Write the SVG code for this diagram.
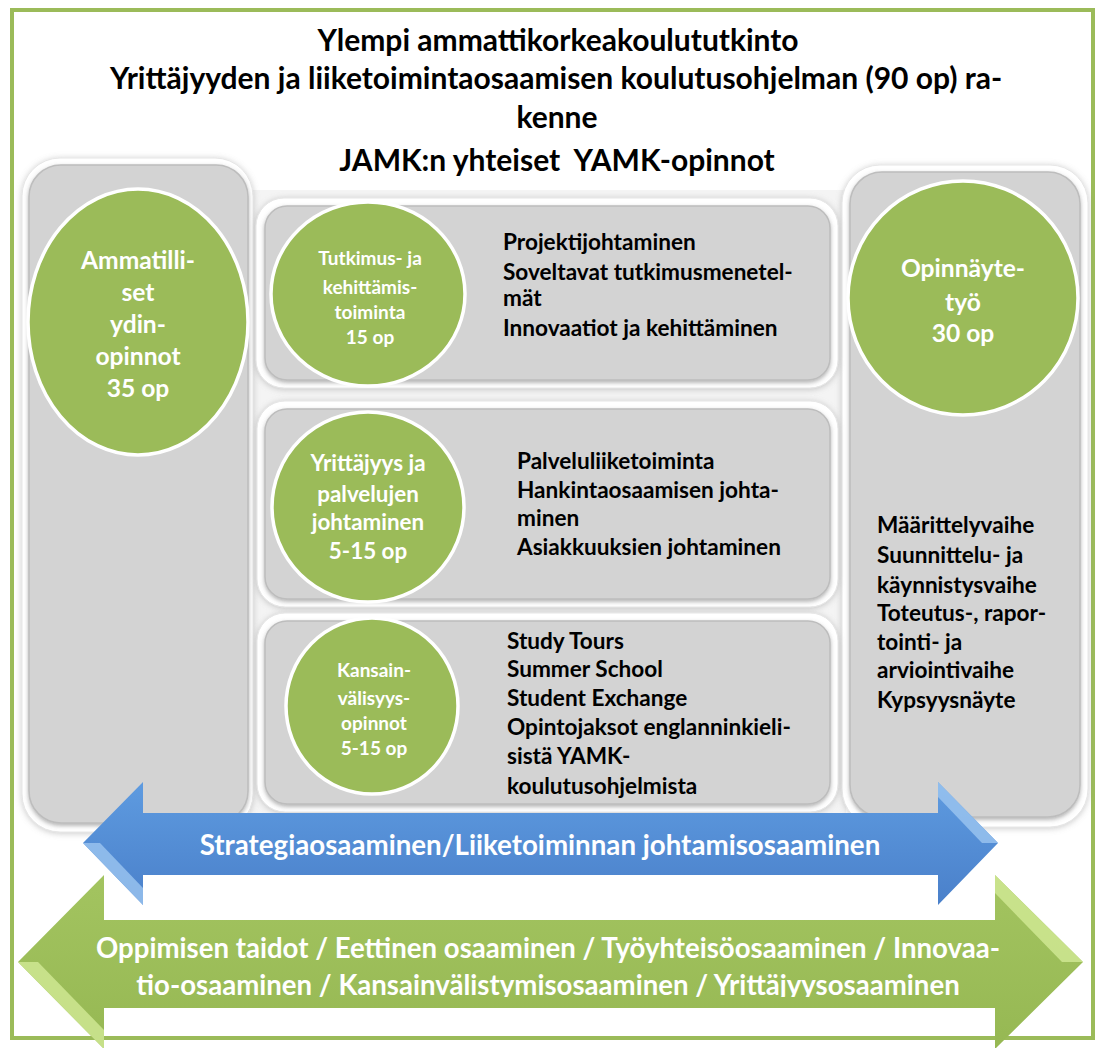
<svg xmlns="http://www.w3.org/2000/svg" width="1098" height="1048" viewBox="0 0 1098 1048">
<defs>
  <filter id="sh" x="-10%" y="-10%" width="120%" height="120%">
    <feDropShadow dx="0" dy="1" stdDeviation="3" flood-color="#888" flood-opacity="0.45"/>
  </filter>
  <filter id="ish" x="-10%" y="-10%" width="120%" height="120%">
    <feDropShadow dx="0" dy="2" stdDeviation="2" flood-color="#666" flood-opacity="0.5"/>
  </filter>
  <linearGradient id="blue" x1="0" y1="0" x2="0" y2="1">
    <stop offset="0" stop-color="#5E9BE0"/>
    <stop offset="1" stop-color="#4A80CA"/>
  </linearGradient>
  <linearGradient id="green" x1="0" y1="0" x2="0" y2="1">
    <stop offset="0" stop-color="#A3C460"/>
    <stop offset="1" stop-color="#96B853"/>
  </linearGradient>
  <clipPath id="gclip"><rect x="0" y="900" width="1098" height="97"/></clipPath>
  <style>
    .t{font-family:Lato,"Liberation Sans",sans-serif;font-weight:bold;}
    .title{font-size:30px;fill:#000;text-anchor:middle;}
    .list{font-size:22.6px;fill:#000;}
    .cw{fill:#fff;text-anchor:middle;}
    .outer{fill:#fff;stroke:#e6e6e6;stroke-width:1;filter:url(#sh);}
    .inner{fill:#d3d3d3;stroke:#bdbdbd;stroke-width:1.5;filter:url(#ish);}
    .circ{fill:#9BBB59;stroke:#fff;stroke-width:3.5;}
  </style>
</defs>

<rect x="0" y="0" width="1098" height="1048" fill="#fff"/>
<rect id="frame" x="12" y="10" width="1081" height="1028" fill="#fff" stroke="#9BBB59" stroke-width="4"/>

<g id="title" class="t title">
  <text x="558" y="51">Ylempi ammattikorkeakoulututkinto</text>
  <text x="556" y="89">Yrittäjyyden ja liiketoimintaosaamisen koulutusohjelman (90 op) ra-</text>
  <text x="557" y="128">kenne</text>
  <text x="557" y="171" xml:space="preserve">JAMK:n yhteiset  YAMK-opinnot</text>
</g>

<rect x="250" y="190" width="596" height="628" fill="#f4f4f4"/>

<g id="left-panel">
  <rect class="outer" x="22" y="158" width="231" height="674" rx="38"/>
  <rect class="inner" x="29" y="165" width="219" height="658" rx="32"/>
  <ellipse class="circ" cx="138" cy="322" rx="110" ry="133"/>
  <g class="t cw" font-size="24.6">
    <text x="138" y="269">Ammatilli-</text>
    <text x="138" y="301">set</text>
    <text x="138" y="333">ydin-</text>
    <text x="138" y="365">opinnot</text>
    <text x="138" y="397">35 op</text>
  </g>
</g>

<g id="right-panel">
  <rect class="outer" x="842" y="165" width="246" height="662" rx="38"/>
  <rect class="inner" x="850" y="172" width="230" height="645" rx="32"/>
  <ellipse class="circ" cx="963" cy="298" rx="115" ry="117"/>
  <g class="t cw" font-size="24.6">
    <text x="963" y="277">Opinnäyte-</text>
    <text x="963" y="311">työ</text>
    <text x="963" y="342">30 op</text>
  </g>
  <g class="t list">
    <text x="877" y="533">Määrittelyvaihe</text>
    <text x="877" y="563">Suunnittelu- ja</text>
    <text x="877" y="593">käynnistysvaihe</text>
    <text x="877" y="621">Toteutus-, rapor-</text>
    <text x="877" y="650">tointi- ja</text>
    <text x="877" y="678">arviointivaihe</text>
    <text x="877" y="708">Kypsyysnäyte</text>
  </g>
</g>

<g id="box-tutkimus">
  <rect class="outer" x="256" y="198" width="582" height="190" rx="28"/>
  <rect class="inner" x="265" y="206" width="565" height="174" rx="22"/>
  <ellipse class="circ" cx="368" cy="294" rx="97" ry="92"/>
  <g class="t cw" font-size="19">
    <text x="370" y="265">Tutkimus- ja</text>
    <text x="370" y="294">kehittämis-</text>
    <text x="370" y="319">toiminta</text>
    <text x="370" y="344">15 op</text>
  </g>
  <g class="t list">
    <text x="503" y="250">Projektijohtaminen</text>
    <text x="503" y="280">Soveltavat tutkimusmenetel-</text>
    <text x="503" y="306">mät</text>
    <text x="503" y="336">Innovaatiot ja kehittäminen</text>
  </g>
</g>

<g id="box-yrittajyys">
  <rect class="outer" x="257" y="401" width="581" height="206" rx="28"/>
  <rect class="inner" x="265" y="409" width="565" height="190" rx="22"/>
  <ellipse class="circ" cx="368" cy="507" rx="96" ry="95"/>
  <g class="t cw" font-size="22.4">
    <text x="368" y="471">Yrittäjyys ja</text>
    <text x="368" y="502">palvelujen</text>
    <text x="368" y="530">johtaminen</text>
    <text x="368" y="559">5-15 op</text>
  </g>
  <g class="t list">
    <text x="517" y="469">Palveluliiketoiminta</text>
    <text x="517" y="498">Hankintaosaamisen johta-</text>
    <text x="517" y="526">minen</text>
    <text x="517" y="555">Asiakkuuksien johtaminen</text>
  </g>
</g>

<g id="box-kansainvalisyys">
  <rect class="outer" x="257" y="613" width="581" height="199" rx="28"/>
  <rect class="inner" x="265" y="621" width="565" height="183" rx="22"/>
  <ellipse class="circ" cx="372" cy="706" rx="86" ry="88"/>
  <g class="t cw" font-size="19">
    <text x="374" y="677">Kansain-</text>
    <text x="374" y="705">välisyys-</text>
    <text x="374" y="730">opinnot</text>
    <text x="374" y="755">5-15 op</text>
  </g>
  <g class="t list">
    <text x="507" y="649">Study Tours</text>
    <text x="507" y="677">Summer School</text>
    <text x="507" y="706">Student Exchange</text>
    <text x="507" y="735">Opintojaksot englanninkieli-</text>
    <text x="507" y="764">sistä YAMK-</text>
    <text x="507" y="794">koulutusohjelmista</text>
  </g>
</g>

<g id="arrow-strategia">
  <polygon points="83,843 143,782 143,813 938,813 938,782 998,843 938,905 938,875 143,875 143,905" fill="url(#blue)"/>
  <polygon points="83,843 100,843 143,888 143,905" fill="#9CC6F0" opacity="0.8"/>
  <polygon points="938,782 998,843 982,843 938,797" fill="#9CC6F0" opacity="0.8"/>
  <text class="t cw" font-size="27.7" x="540" y="855">Strategiaosaaminen/Liiketoiminnan johtamisosaaminen</text>
</g>

<g id="arrow-yleiset">
  <polygon points="18,962 104,875 104,920 995,920 995,875 1083,962 995,1049 995,1008 104,1008 104,1049" fill="url(#green)"/>
  <polygon points="18,962 38,962 104,1030 104,1049" fill="#D2EA96" opacity="0.8"/>
  <polygon points="995,875 1083,962 1062,962 995,893" fill="#D2EA96" opacity="0.8"/>
  <g class="t cw" font-size="27.6" clip-path="url(#gclip)">
    <text x="548" y="958">Oppimisen taidot / Eettinen osaaminen / Työyhteisöosaaminen / Innovaa-</text>
    <text x="548" y="995">tio-osaaminen / Kansainvälistymisosaaminen / Yrittäjyysosaaminen</text>
  </g>
</g>
</svg>
